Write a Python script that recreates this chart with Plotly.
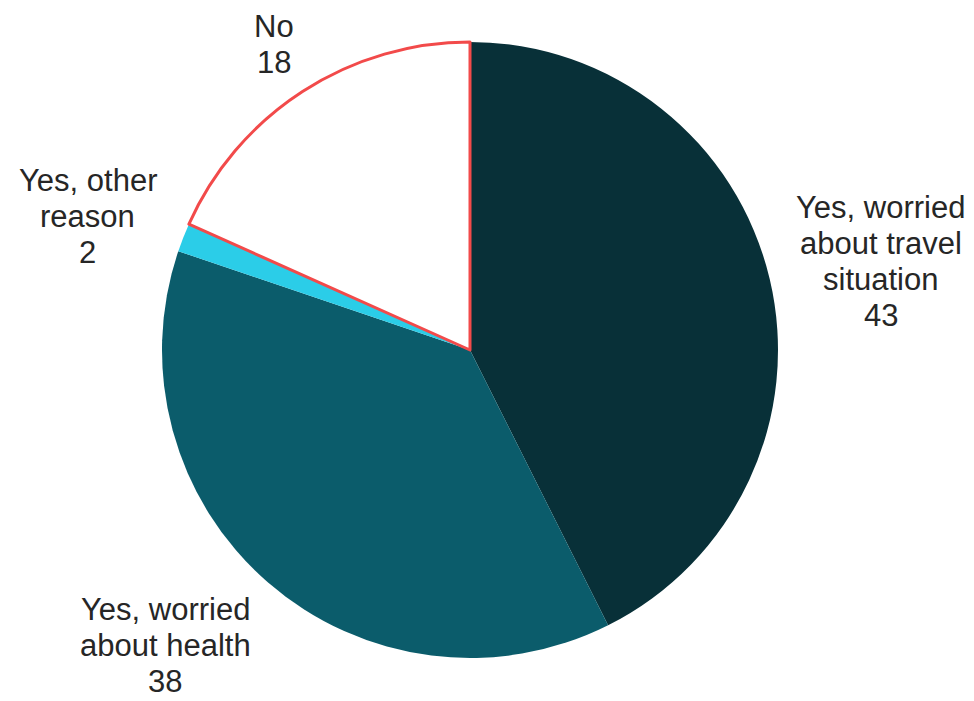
import math
import plotly.graph_objects as go

labels = ["Yes, worried about travel situation", "Yes, worried about health", "Yes, other reason", "No"]
label_lines = [["Yes, worried", "about travel", "situation"],
               ["Yes, worried", "about health"],
               ["Yes, other", "reason"],
               ["No"]]
values = [42.6, 37.6, 1.5, 18.3]          # slice sizes (labels show them rounded)
value_labels = ["43", "38", "2", "18"]
colors = ["#083038", "#0b5c6b", "#2bcde8", "#ffffff"]
line_colors = ["#083038", "#0b5c6b", "#2bcde8", "#f24a4a"]
line_widths = [0, 0, 0, 3]

W, H = 974, 701
OFF = 8                     # page body margin around the plot
CX, CY, R = 470 - OFF, 350 - OFF, 308   # pie centre / radius (plot pixels)
LABEL_R = 334               # label anchor distance from centre
FS = 31                     # label font size
LINE = 36                   # label line spacing (px)
CHAR_W = 0.46               # average glyph width in em (for centring blocks)

fig = go.Figure(go.Pie(
    labels=labels,
    values=values,
    textinfo="none",
    sort=False,
    direction="clockwise",
    rotation=0,
    marker=dict(colors=colors, line=dict(color=line_colors, width=line_widths)),
    showlegend=False,
    hoverinfo="label",
    domain=dict(x=[(CX - R) / W, (CX + R) / W],
                y=[1 - (CY + R) / H, 1 - (CY - R) / H]),
))

# outside labels, placed at the middle angle of each slice
total = sum(values)
cum = 0
annotations = []
for lines, v, vl in zip(label_lines, values, value_labels):
    mid = (cum + v / 2) / total * 2 * math.pi
    cum += v
    s, c = math.sin(mid), math.cos(mid)
    px = CX + LABEL_R * s
    py = CY - LABEL_R * c
    all_lines = lines + [vl]
    n = len(all_lines)
    block_w = CHAR_W * FS * max(len(t) for t in all_lines)
    bx = px + block_w / 2 if s > 0 else px - block_w / 2
    if c > 0.6:
        first = py - 7.5 - (n - 1) * LINE
    elif c < -0.6:
        first = py + 8
    else:
        first = py - 12 - (n - 1) * LINE / 2
    for i, t in enumerate(all_lines):
        ly = first + i * LINE
        annotations.append(dict(
            x=bx / W, y=1 - ly / H, xref="paper", yref="paper",
            text=t, showarrow=False, align="center",
            xanchor="center", yanchor="middle", borderpad=0,
            font=dict(family="Arial, Liberation Sans, sans-serif", size=FS, color="#262626"),
        ))

fig.update_layout(
    width=W, height=H,
    margin=dict(l=0, r=0, t=0, b=0),
    paper_bgcolor="white",
    plot_bgcolor="white",
    annotations=annotations,
)

fig.write_html("out.html")
